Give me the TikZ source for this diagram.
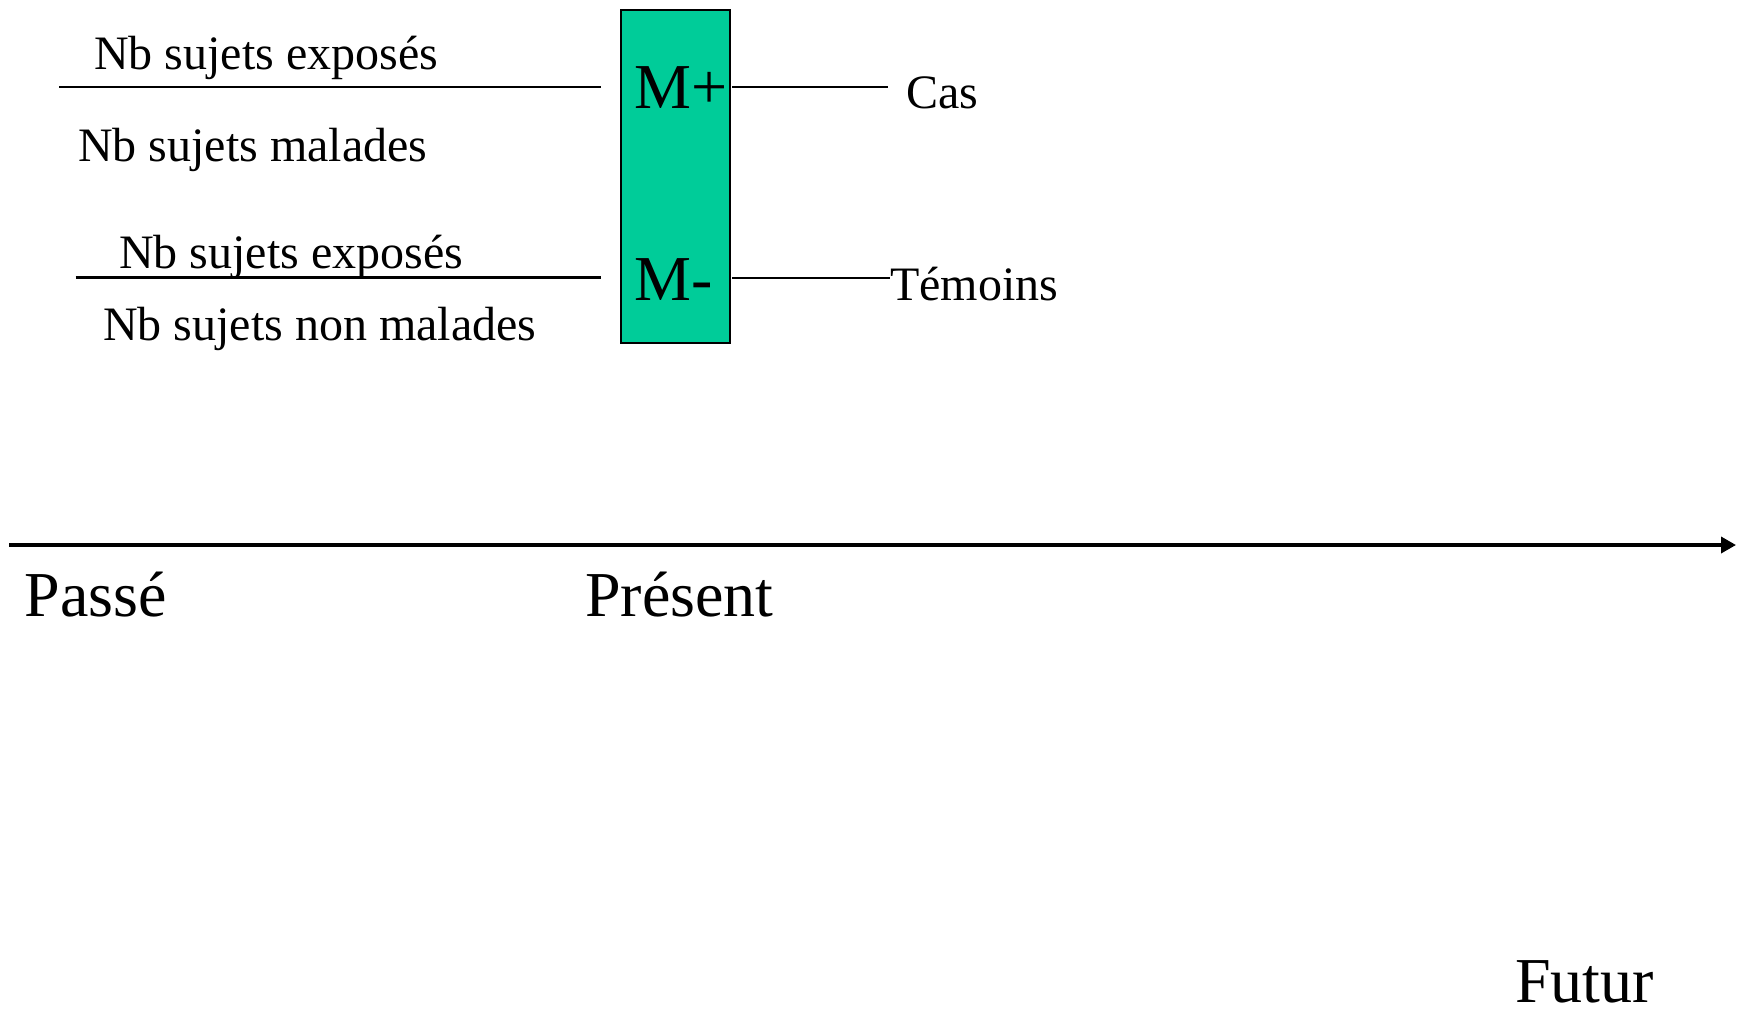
\documentclass[tikz,border=0pt]{standalone}
\usepackage{fontspec}
\setmainfont{Liberation Serif}
\usetikzlibrary{arrows.meta}
\definecolor{boxgreen}{HTML}{00CC99}
\tikzset{
  small/.style={font=\fontsize{48}{58}\selectfont, inner sep=0pt, anchor=base west},
  large/.style={font=\fontsize{64}{76}\selectfont, inner sep=0pt, anchor=base west},
  bar/.style={line width=2.4pt},
  axis/.style={line width=3.5pt, -{Triangle[length=15pt,width=16pt]}},
  groupbox/.style={draw, fill=boxgreen, line width=2.5pt, inner sep=0pt,
    minimum width=109pt, minimum height=333pt, anchor=north west}
}
\begin{document}
\begin{tikzpicture}[x=1pt,y=-1pt]
\useasboundingbox (0,0) rectangle (1744,1012);

% central group box
\node[groupbox] (box) at (619.5,8.5) {};
\node[large] (mplus) at (634,108.5) {M+};
\node[large] (mminus) at (634,300.5) {M-};

% fractions on the left
\node[small] (expo1) at (94,69.5) {Nb sujets exposés};
\node[small] (malades) at (78,161.5) {Nb sujets malades};
\node[small] (expo2) at (119,268) {Nb sujets exposés};
\node[small] (nonmal) at (103,340.5) {Nb sujets non malades};
\coordinate (f1a) at (59,86.8);
\coordinate (f1b) at (600.6,86.8);
\coordinate (f2a) at (75.6,277.6);
\coordinate (f2b) at (600.6,277.6);
\draw[bar] (f1a) -- (f1b);
\draw[bar] (f2a) -- (f2b);

% labels on the right
\node[small] (cas) at (906,108.3) {Cas};
\node[small] (temoins) at (890,300) {Témoins};
\coordinate (r1a) at (732,86.8);
\coordinate (r1b) at (888,86.8);
\coordinate (r2a) at (732,278);
\draw[bar] (r1a) -- (r1b);
\draw[bar] (r2a) -- (temoins.west |- r2a);

% time axis
\coordinate (tstart) at (9,545);
\coordinate (tend) at (1736,545);
\draw[axis] (tstart) -- (tend);
\node[large] (passe) at (24.5,616) {Passé};
\node[large] (present) at (585,616) {Présent};
\node[large] (futur) at (1515,1002) {Futur};
\end{tikzpicture}
\end{document}
